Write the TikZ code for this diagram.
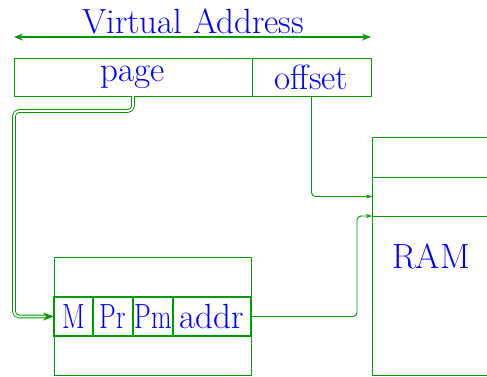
\documentclass[tikz,border=0pt]{standalone}
\usetikzlibrary{arrows.meta,calc}
\definecolor{lg}{RGB}{0,155,0}
\begin{document}
\begin{tikzpicture}[x=1pt,y=-1pt,
  every node/.style={font=\fontsize{35}{40}\selectfont, text=blue},
  box/.style={draw=lg, line width=1pt, rectangle, inner sep=0pt, outer sep=0pt, anchor=north west},
  cell/.style={box, line width=1.3pt},
  conn/.style={draw=lg, line width=0.9pt, rounded corners=4pt, -{Stealth[length=6pt,width=4pt]}},
  dconn/.style={draw=lg, line width=0.9pt, double=white, double distance=1.8pt, rounded corners=5pt, -{Stealth[length=11pt,width=8pt]}},
  vaarrow/.style={draw=lg, line width=1.8pt, {Stealth[length=9pt,width=7pt]}-{Stealth[length=9pt,width=7pt]}}]
\useasboundingbox (0,0) rectangle (487,376);
% virtual address
\node (vatext) at (193,21) {Virtual Address};
\coordinate (vl) at (14,37);
\coordinate (vr) at (371,37);
\draw[vaarrow] (vl) -- (vr);
% address fields
\node[box, minimum width=238pt, minimum height=38pt] (page) at (14,58) {page};
\node[box, minimum width=119pt, minimum height=38pt] (offset) at (252,58) {offset};
% page table
\node[box, minimum width=197pt, minimum height=118pt] (tbl) at (54,257) {};
\node[cell, minimum width=39pt, minimum height=39pt] (M) at (54,297) {\scalebox{0.76}[1]{M}};
\node[cell, minimum width=40pt, minimum height=39pt] (Pr) at (93,297) {\scalebox{0.76}[1]{Pr}};
\node[cell, minimum width=40pt, minimum height=39pt] (Pm) at (133,297) {\scalebox{0.76}[1]{Pm}};
\node[cell, minimum width=78pt, minimum height=39pt] (addr) at (173,297) {addr};
% RAM
\node[box, minimum width=118pt, minimum height=40pt] (ram1) at (372,137) {};
\node[box, minimum width=118pt, minimum height=39pt] (ram2) at (372,177) {};
\node[box, minimum width=118pt, minimum height=159pt] (ram3) at (372,216) {};
\node (ramtext) at (431,256) {RAM};
% connectors
\draw[dconn] (page.south) -- ++(0,15) -| ([xshift=-40pt]M.west) -- (M.west);
\draw[conn] (offset.south) |- (ram2.west);
\draw[conn] (addr.east) -| ([xshift=-15pt]ram3.north west) -- (ram3.north west);
\end{tikzpicture}
\end{document}
